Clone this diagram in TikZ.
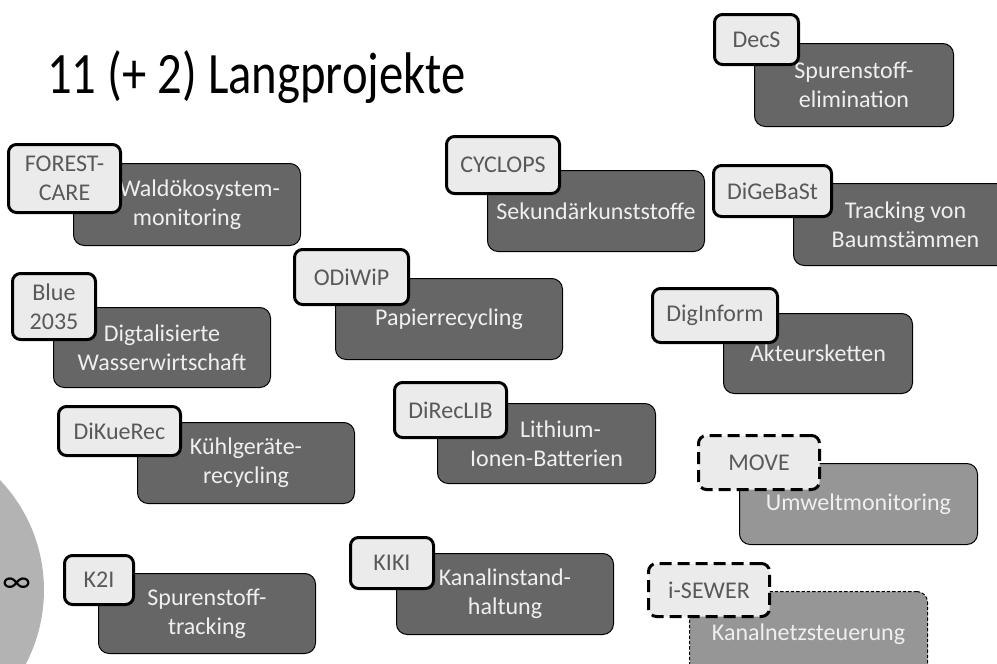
\documentclass[tikz,border=0pt]{standalone}
\usepackage{fontspec}
\setmainfont{Carlito}
\newfontfamily\titlefont[FakeStretch=0.83]{Carlito}

\definecolor{boxgray}{HTML}{666666}
\definecolor{plannedgray}{HTML}{969696}
\definecolor{tagfill}{HTML}{EBEBEB}
\definecolor{tagtext}{HTML}{595959}
\definecolor{boxtext}{HTML}{EFEFEF}
\definecolor{ringgray}{HTML}{B3B3B3}

\tikzset{
  dims/.style 2 args={minimum width=#1*0.75pt,minimum height=#2*0.75pt},
  project/.style={draw=black,line width=0.75pt,fill=boxgray,rounded corners=8pt,
    text=boxtext,align=center,anchor=north west,inner sep=0pt,
    font=\fontsize{18}{21.6}\selectfont},
  planned/.style={project,fill=plannedgray},
  tag/.style={draw=black,line width=2.25pt,fill=tagfill,rounded corners=6pt,
    text=tagtext,align=center,anchor=north west,inner sep=0pt,
    font=\fontsize{18}{21.6}\selectfont},
  tagdashed/.style={tag,dash pattern=on 9pt off 4.5pt}
}

\begin{document}
\begin{tikzpicture}[x=0.75pt,y=-0.75pt]
  \useasboundingbox (0,0) rectangle (997,664);
  \clip (0,0) rectangle (997,664);
  \fill[ringgray] (-115.5,590) circle[radius=119.6pt];
  \node[font=\fontsize{25}{30}\selectfont] (infty) at (16.5,585) {∞};
  \node[anchor=base west,inner sep=0pt,font=\titlefont\fontsize{44}{52}\selectfont] (title) at (47,93) {11 (+ 2) Langprojekte};

  \node[project,dims={199}{83}] (decsbox) at (754,43) {Spurenstoff-\\elimination};
  \node[tag,dims={84}{50}] (decs) at (713,13) {DecS};
  \node[project,dims={227}{82}] (forestbox) at (73,163) {\hspace*{19pt}Waldökosystem-\\monitoring};
  \node[tag,dims={112}{68}] (forest) at (7,143) {FOREST-\\CARE};
  \node[project,dims={217}{80}] (bluebox) at (53,307) {Digtalisierte\\Wasserwirtschaft};
  \node[tag,dims={83}{66}] (blue) at (11,272) {Blue\\2035};
  \node[project,dims={217}{81}] (cyclopsbox) at (487,170) {Sekundärkunststoffe};
  \node[tag,dims={113}{57}] (cyclops) at (445,135) {CYCLOPS};
  \node[project,dims={227}{81}] (odiwipbox) at (335,278) {Papierrecycling};
  \node[tag,dims={114}{55}] (odiwip) at (293,248) {ODiWiP};
  \node[project,dims={224}{82}] (digebastbox) at (793,183) {Tracking von\\Baumstämmen};
  \node[tag,dims={118}{51}] (digebast) at (712,164) {DiGeBaSt};
  \node[project,dims={189}{80}] (diginformbox) at (723,313) {Akteursketten};
  \node[tag,dims={125}{54}] (diginform) at (651,287) {DigInform};
  \node[project,dims={217}{81}] (dikuerecbox) at (137,422) {Kühlgeräte-\\recycling};
  \node[tag,dims={122}{49}] (dikuerec) at (57,405) {DiKueRec};
  \node[project,dims={218}{80}] (direclibbox) at (437,403) {\hspace*{21pt}Lithium-\\Ionen-Batterien};
  \node[tag,dims={112}{55}] (direclib) at (393,381) {DiRecLIB};
  \node[planned,dims={238}{81}] (movebox) at (739,463) {Umweltmonitoring};
  \node[tagdashed,dims={121}{54}] (move) at (697,434) {MOVE};
  \node[planned,dims={238}{85},dash pattern=on 2.5pt off 1.5pt] (isewerbox) at (689,591) {Kanalnetzsteuerung};
  \node[tagdashed,dims={121}{53}] (isewer) at (647,562) {i-SEWER};
  \node[project,dims={217}{80}] (ktwoibox) at (98,573) {Spurenstoff-\\tracking};
  \node[tag,dims={69}{49}] (ktwoi) at (63,554) {K2I};
  \node[project,dims={217}{81}] (kikibox) at (396,553) {Kanalinstand-\\haltung};
  \node[tag,dims={83}{51}] (kiki) at (349,536) {KIKI};
\end{tikzpicture}
\end{document}
